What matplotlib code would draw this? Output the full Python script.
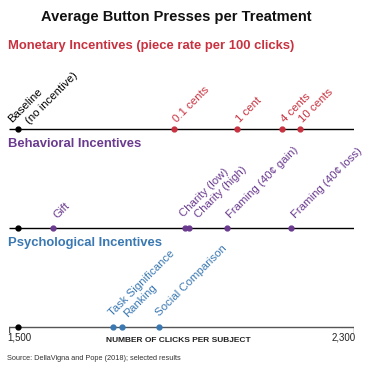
import matplotlib.pyplot as plt

plt.rcParams['font.family'] = ['Liberation Sans', 'DejaVu Sans']

baseline = 1521

monetary_labels = ['0.1 cents', '1 cent', '4 cents', '10 cents']
monetary_values = [1883, 2029, 2132, 2175]

behavioral_labels = ['Gift', 'Charity (low)', 'Charity (high)',
                     'Framing (40¢ gain)', 'Framing (40¢ loss)']
behavioral_values = [1602, 1907, 1918, 2005, 2155]

psych_labels = ['Task Significance', 'Ranking', 'Social Comparison']
psych_values = [1741, 1762, 1848]

xmin, xmax = 1500, 2300
tick_labels = ['1,500', '2,300']

red = '#c8313f'
purple = '#6a3a8f'
blue = '#3a78b2'

# where each label starts relative to its dot, in pixels
nudge = {'Charity (low)': (-8, -10), 'Charity (high)': (2, -9),
         'Task Significance': (-7, -10), 'Ranking': (-1, -9)}
XFIX = 7  # rotated glyphs sit a bit left of the anchor

W, H = 369, 373
fig = plt.figure(figsize=(W / 100, H / 100), dpi=100)
# axes covers the full height, y in pixel units (top = 0)
ax = fig.add_axes([9 / W, 0, 345 / W, 1])
ax.set_xlim(xmin, xmax)
ax.set_ylim(H, 0)
ax.axis('off')


def label(text, x, y, dx, dy, color):
    ax.annotate(text, (x, y), xytext=(dx + XFIX, -dy), textcoords='offset pixels',
                rotation=45, rotation_mode='anchor', ha='left', va='baseline',
                color=color, fontsize=8.2)


def panel(y, labels, values, color, default, line_color='black'):
    ax.plot([xmin, xmax], [y, y], color=line_color, lw=1.0, solid_capstyle='butt', zorder=1)
    ax.plot([baseline], [y], 'o', color='black', ms=3.5, zorder=3)
    ax.plot(values, [y] * len(values), 'o', color=color, ms=3.5, zorder=3)
    for lab, v in zip(labels, values):
        dx, dy = nudge.get(lab, default)
        label(lab, v, y, dx, dy, color)


fig.text(176 / W, 1 - 17 / H, 'Average Button Presses per Treatment',
         ha='center', va='center', fontsize=10.5, fontweight='bold', color='#111111')

fig.text(8 / W, 1 - 46 / H, 'Monetary Incentives (piece rate per 100 clicks)',
         ha='left', va='center', fontsize=9.4, fontweight='bold', color=red)
panel(129, monetary_labels, monetary_values, red, (-4, -6))
label('Baseline', baseline, 129, -13, -6, 'black')
label('(no incentive)', baseline, 129, 5, -4, 'black')

fig.text(8 / W, 1 - 144 / H, 'Behavioral Incentives',
         ha='left', va='center', fontsize=9.4, fontweight='bold', color=purple)
panel(228, behavioral_labels, behavioral_values, purple, (-3, -9))

fig.text(8 / W, 1 - 243 / H, 'Psychological Incentives',
         ha='left', va='center', fontsize=9.4, fontweight='bold', color=blue)
panel(327, psych_labels, psych_values, blue, (-6, -10), line_color='#555555')

# end ticks of the scale
for xv, lab, ha, dx in zip([xmin, xmax], tick_labels, ['left', 'right'], [-2, 2]):
    ax.plot([xv, xv], [327, 332], color='#555555', lw=1.0)
    ax.annotate(lab, (xv, 338), xytext=(dx, 0), textcoords='offset pixels',
                ha=ha, va='center', fontsize=7, color='#222222')

fig.text(178 / W, 1 - 341 / H, 'NUMBER OF CLICKS PER SUBJECT',
         ha='center', va='center', fontsize=6, fontweight='bold', color='#222222')
fig.text(7 / W, 1 - 358 / H, 'Source: DellaVigna and Pope (2018); selected results',
         ha='left', va='center', fontsize=5.3, color='#333333')

fig.savefig('out.png', dpi=100)
